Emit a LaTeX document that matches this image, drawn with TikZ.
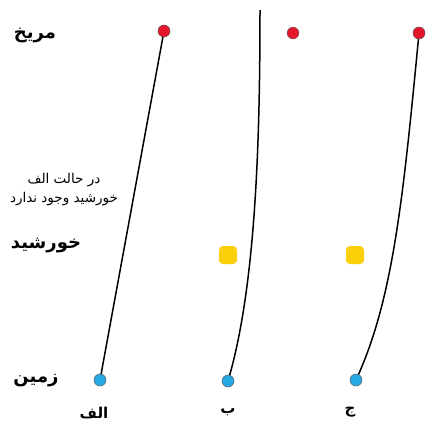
\documentclass[tikz,border=0pt]{standalone}
\usepackage{fontspec}
\newfontfamily\fa[Script=Arabic]{DejaVu Sans}
\TeXXeTstate=1
\definecolor{marsred}{RGB}{228,22,42}
\definecolor{earthblue}{RGB}{38,168,228}
\definecolor{sunyellow}{RGB}{250,208,10}
\tikzset{
  planet/.style={circle,inner sep=0pt,minimum size=12pt,draw=black!60,line width=0.4pt},
  mars/.style={planet,fill=marsred},
  earth/.style={planet,fill=earthblue},
  sun/.style={rectangle,rounded corners=4pt,inner sep=0pt,minimum size=18pt,fill=sunyellow},
  path/.style={line width=1.5pt,black},
  biglabel/.style={font=\fa\bfseries\fontsize{18}{20}\selectfont},
  smalllabel/.style={font=\fa\fontsize{13.5}{19}\selectfont,align=center},
  caselabel/.style={font=\fa\bfseries\fontsize{15}{17}\selectfont}
}
\begin{document}
\begin{tikzpicture}[x=1pt,y=-1pt]
\useasboundingbox (0,0) rectangle (426,424);
% nodes
\node[mars] (mA) at (164,31) {};
\node[earth] (eA) at (100,380) {};
\node[mars] (mB) at (293,33) {};
\node[sun] (sB) at (228,255) {};
\node[earth] (eB) at (228,381) {};
\coordinate (tB) at (260,10);
\node[mars] (mC) at (419,33) {};
\node[sun] (sC) at (355,255) {};
\node[earth] (eC) at (356,380) {};
% paths
\draw[path] (mA.center) -- (eA.center);
\draw[path] (tB) .. controls (260,150) and (255,290) .. (eB.center);
\draw[path] (mC.center) .. controls (403,200) and (393,300) .. (eC.center);
% redraw dots on top
\node[mars] at (mA) {};
\node[earth] at (eA) {};
\node[earth] at (eB) {};
\node[mars] at (mC) {};
\node[earth] at (eC) {};
% labels
\node[biglabel] (lMars) at (35,35) {\beginR مریخ\endR};
\node[smalllabel] (note) at (64,190) {\beginR در حالت الف\endR\\\beginR خورشید وجود ندارد\endR};
\node[biglabel] (lSun) at (46,245) {\beginR خورشید\endR};
\node[biglabel] (lEarth) at (36,381) {\beginR زمین\endR};
\node[caselabel] (cA) at (94,413) {\beginR الف\endR};
\node[caselabel] (cB) at (228,412) {\beginR ب\endR};
\node[caselabel] (cC) at (350,412) {\beginR ج\endR};
\end{tikzpicture}
\end{document}
